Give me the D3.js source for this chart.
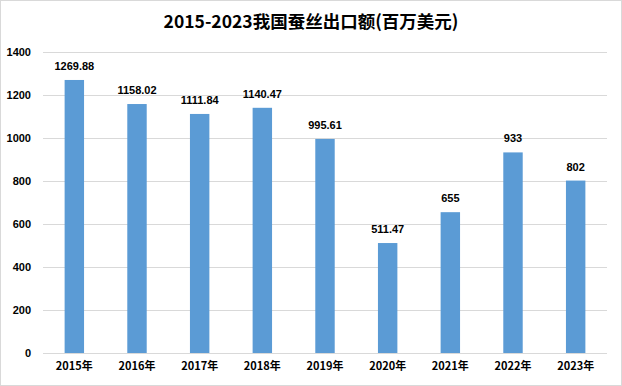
<!DOCTYPE html>
<html><head><meta charset="utf-8">
<script src="https://cdn.jsdelivr.net/npm/d3@7"></script>
<style>html,body{margin:0;padding:0;background:#fff;}svg{display:block;}</style>
</head><body>
<script>
const categories = ["2015年","2016年","2017年","2018年","2019年","2020年","2021年","2022年","2023年"];
const values = [1269.88,1158.02,1111.84,1140.47,995.61,511.47,655,933,802];
const valueLabels = ["1269.88","1158.02","1111.84","1140.47","995.61","511.47","655","933","802"];
const yTicks = [0,200,400,600,800,1000,1200,1400];
const title = "2015-2023我国蚕丝出口额(百万美元)";

const W = 622, H = 386;
const m = {left:43, right:15, top:52, bottom:33};
const svg = d3.select("body").append("svg").attr("width",W).attr("height",H);
svg.append("rect").attr("x",0.5).attr("y",0.5).attr("width",W-1).attr("height",H-1)
  .attr("fill","#fff").attr("stroke","#d9d9d9");

const x = d3.scaleBand().domain(categories).range([m.left, W-m.right]).paddingInner(0.69).paddingOuter(0.345);
const y = d3.scaleLinear().domain([0,1400]).range([H-m.bottom, m.top]);

const font = "'Liberation Sans', Arial, sans-serif";
svg.append("text").attr("x",W/2).attr("y",28).attr("text-anchor","middle")
  .attr("font-family","'Noto Sans CJK SC', sans-serif").attr("font-weight","bold").attr("font-size",17.5)
  .attr("fill","#000").text(title);

const yAxis = svg.append("g").attr("transform",`translate(${m.left},0)`)
  .call(d3.axisLeft(y).tickValues(yTicks).tickSize(-(W-m.left-m.right)).tickPadding(12).tickFormat(d3.format("d")));
yAxis.select(".domain").remove();
yAxis.selectAll(".tick line").attr("stroke","#d9d9d9");
yAxis.selectAll(".tick text").attr("font-family",font).attr("font-weight","bold").attr("font-size",11).attr("fill","#000");

const xAxis = svg.append("g").attr("transform",`translate(0,${H-m.bottom})`)
  .call(d3.axisBottom(x).tickSize(0).tickPadding(9));
xAxis.select(".domain").remove();
xAxis.selectAll(".tick text").attr("font-family","'Noto Sans CJK SC', sans-serif").attr("font-weight","bold").attr("font-size",11).attr("fill","#000");

svg.append("g").selectAll("rect").data(values).join("rect")
  .attr("x",(d,i)=>x(categories[i])).attr("width",x.bandwidth())
  .attr("y",d=>y(d)).attr("height",d=>y(0)-y(d)).attr("fill","#5b9bd5");

svg.append("g").selectAll("text").data(values).join("text")
  .attr("x",(d,i)=>x(categories[i])+x.bandwidth()/2).attr("y",d=>y(d)-10)
  .attr("text-anchor","middle").attr("font-family",font).attr("font-weight","bold").attr("font-size",11)
  .attr("fill","#000").text((d,i)=>valueLabels[i]);
</script>
</body></html>
